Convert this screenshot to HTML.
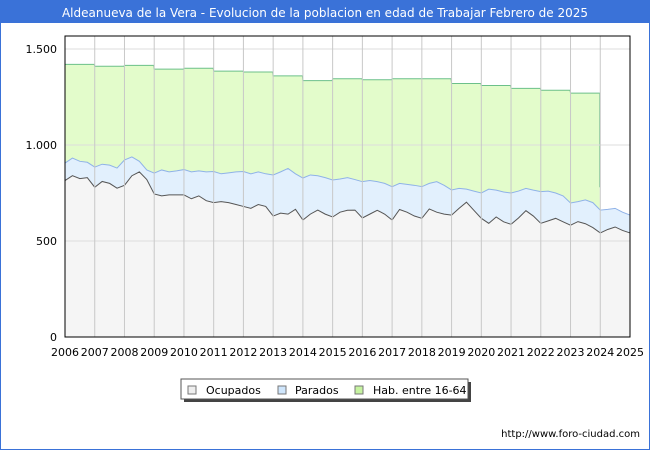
<!DOCTYPE html>
<html><head><meta charset="utf-8"><style>
body{margin:0;width:650px;height:450px;overflow:hidden;background:#fff;font-family:"DejaVu Sans","Liberation Sans",sans-serif}
svg text{font-family:"DejaVu Sans","Liberation Sans",sans-serif}
</style></head><body>
<svg id="chart" width="650" height="450">
<rect x="0.5" y="0.5" width="649" height="449" fill="#fff" stroke="#3a72d8"/>
<rect x="0" y="0" width="650" height="23" fill="#3a72d8"/>
<text x="325" y="17" text-anchor="middle" fill="#fff" font-size="12">Aldeanueva de la Vera - Evolucion de la poblacion en edad de Trabajar Febrero de 2025</text>
<g id="marks"></g>
<g id="grid"></g>
<rect x="65" y="36" width="565" height="301" fill="none" stroke="#000"/>
<g id="axes"></g>
<g>
<rect x="184" y="382" width="287" height="20" fill="#444"/>
<rect x="181" y="379" width="287" height="20" fill="#fff" stroke="#555"/>
<g><rect x="188" y="386" width="8" height="8" fill="#eee" stroke="#777"/><text x="206" y="394" font-size="11">Ocupados</text></g>
<g><rect x="278" y="386" width="8" height="8" fill="#cfe6fc" stroke="#777"/><text x="295" y="394" font-size="11">Parados</text></g>
<g><rect x="355" y="386" width="8" height="8" fill="#c6f3a0" stroke="#777"/><text x="373" y="394" font-size="11">Hab. entre 16-64</text></g>
</g>
<text x="640" y="437" text-anchor="end" font-size="10" fill="#000">http://www.foro-ciudad.com</text>
</svg>
<script>
const years=[2006,2007,2008,2009,2010,2011,2012,2013,2014,2015,2016,2017,2018,2019,2020,2021,2022,2023,2024,2025];
const habValues=[1420,1410,1415,1395,1400,1385,1380,1360,1335,1345,1340,1345,1345,1320,1310,1295,1285,1270];
const habEndValue=780;
const ocupados=[815,840,825,830,780,810,800,775,790,840,860,820,745,735,740,740,740,720,735,710,700,705,700,690,680,670,690,680,630,645,640,665,609,640,661,640,625,650,660,661,620,640,660,640,609,664,650,630,618,667,650,640,635,670,702,660,618,592,625,600,587,620,658,630,592,605,618,600,582,601,590,570,542,560,573,555,542];
const totalActivos=[906,932,915,910,885,900,895,880,922,938,915,870,854,870,860,865,872,860,865,860,862,850,855,860,862,850,860,850,844,860,878,850,828,844,840,830,818,823,830,820,809,815,809,800,783,800,795,790,783,800,809,790,766,774,770,760,750,770,765,755,750,760,774,765,757,760,750,735,698,705,714,700,661,665,670,650,635];
const yTicks=[0,500,1000,1500];
const yTickLabels=["0","500","1.000","1.500"];
const NS="http://www.w3.org/2000/svg";
const X=t=>65+(t-2006)*(565/19);
const Y=v=>337-v*(288/1500);
function mk(tag,attrs,parent){const e=document.createElementNS(NS,tag);for(const k in attrs)e.setAttribute(k,attrs[k]);parent.appendChild(e);return e;}
const grid=document.getElementById('grid'),marks=document.getElementById('marks'),axes=document.getElementById('axes');
yTicks.forEach((v,i)=>{
 const l=mk('line',{x1:65,x2:630,y1:Y(v),y2:Y(v),stroke:'#ddd'},grid);
 
 
 const t=mk('text',{x:57,y:Y(v)+4,'text-anchor':'end','font-size':11},axes);
 t.textContent=yTickLabels[i];
 
 
});
let d=`M${X(2006)},${Y(0)}`;
habValues.forEach((v,i)=>{d+=`L${X(years[i])},${Y(v)}L${X(years[i]+1)-0.5},${Y(v)}`;});
d+=`L${X(2024)-0.5},${Y(habEndValue)}L${X(2024)-0.5},${Y(0)}Z`;
const hab=mk('path',{d:d,fill:'#e3fccb',stroke:'none'},marks);


let hl=`M${X(2006)},${Y(habValues[0])}`;
habValues.forEach((v,i)=>{hl+=`L${X(years[i])},${Y(v)}L${X(years[i]+1)-0.5},${Y(v)}`;});
hl+=`L${X(2024)-0.5},${Y(habEndValue)}`;
const habLine=mk('path',{d:hl,fill:'none',stroke:'#6cc08a','stroke-width':1},marks);


function areaPath(arr){let p=`M${X(2006)},${Y(0)}`;arr.forEach((v,i)=>{p+=`L${X(2006+i/4)},${Y(v)}`;});return p+`L${X(2006+(arr.length-1)/4)},${Y(0)}Z`;}
function linePath(arr){return arr.map((v,i)=>(i?'L':'M')+X(2006+i/4)+','+Y(v)).join('');}
const pa=mk('path',{d:areaPath(totalActivos),fill:'#e2f0fd'},marks);


const pl=mk('path',{d:linePath(totalActivos),fill:'none',stroke:'#8fb2e8'},marks);


const oa=mk('path',{d:areaPath(ocupados),fill:'#f5f5f5'},marks);


const ol=mk('path',{d:linePath(ocupados),fill:'none',stroke:'#555'},marks);


years.forEach(y=>{
 if(y>2006&&y<2025){const g=mk('line',{x1:X(y),x2:X(y),y1:36,y2:337,stroke:'#c8c8c8'},grid);
 
 }
 const t=mk('text',{x:X(y),y:356,'text-anchor':'middle','font-size':11},axes);
 t.textContent=y;
 
 
});
</script>
</body></html>
